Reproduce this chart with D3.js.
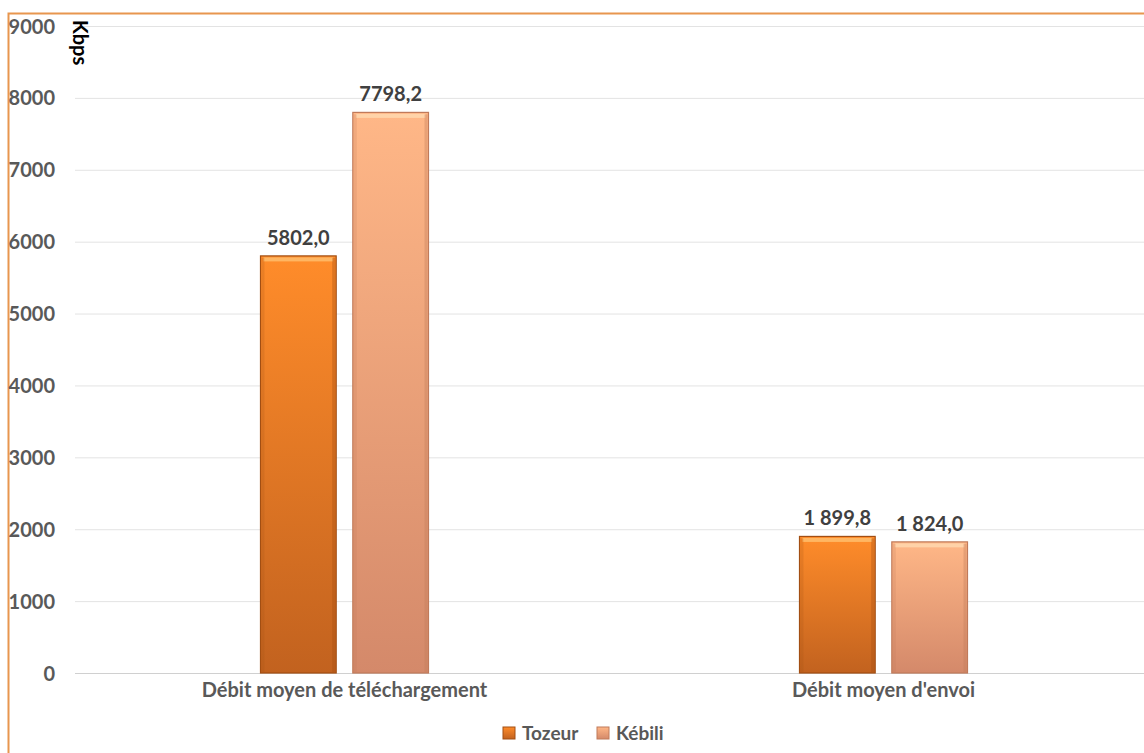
<!DOCTYPE html>
<html><head><meta charset="utf-8">
<script src="https://cdn.jsdelivr.net/npm/d3@7"></script>
<style>
html,body{margin:0;padding:0;background:#fff;}
svg{display:block;font-family:Lato,"Open Sans",sans-serif;}
</style></head>
<body>
<svg id="chart" width="1144" height="753"></svg>
<script>
const categories = ["Débit moyen de téléchargement", "Débit moyen d'envoi"];
const seriesNames = ["Tozeur", "Kébili"];
const tozeurValues = [5802.0, 1899.8];
const kebiliValues = [7798.2, 1824.0];
const tozeurLabels = ["5802,0", "1 899,8"];
const kebiliLabels = ["7798,2", "1 824,0"];
const yTicks = [0,1000,2000,3000,4000,5000,6000,7000,8000,9000];
const unitLabel = "Kbps";

const svg = d3.select("#chart");
const W = 1144, H = 753;
const plotLeft = 75, plotRight = 1153, yTop = 26, yBottom = 673;

// border
svg.append("path").attr("d", `M8.5,${H+5} L8.5,13.5 L${W+5},13.5`)
  .attr("fill","none").attr("stroke","#E8964E").attr("stroke-width",2);

const y = d3.scaleLinear().domain([0,9000]).range([yBottom,yTop]);
const x0 = d3.scaleBand().domain(categories).range([plotLeft,plotRight]).paddingInner(0).paddingOuter(0);
const x1 = d3.scaleBand().domain(seriesNames).range([x0.bandwidth()/2-84, x0.bandwidth()/2+84]).paddingInner(0.18).paddingOuter(0);

// gradients
const defs = svg.append("defs");
const gradSpecs = [
  {id:"gT", top:"#FF8C2A", bot:"#C2621F"},
  {id:"gK", top:"#FFB787", bot:"#D4896A"}
];
gradSpecs.forEach(g=>{
  const lg = defs.append("linearGradient").attr("id",g.id).attr("x1",0).attr("y1",0).attr("x2",0).attr("y2",1);
  lg.append("stop").attr("offset","0%").attr("stop-color",g.top);
  lg.append("stop").attr("offset","100%").attr("stop-color",g.bot);
});
const edgeColors = {Tozeur:"#A24E12", "Kébili":"#C07A5A"};
const hiColors = {Tozeur:"#FFC070", "Kébili":"#FFD9B0"};

// gridlines
const yAxis = d3.axisLeft(y).tickValues(yTicks).tickSize(0).tickPadding(0).tickFormat(d3.format("d"));
svg.append("g").selectAll("line").data(yTicks).join("line")
  .attr("x1",plotLeft).attr("x2",W).attr("y1",d=>y(d)+0.5).attr("y2",d=>y(d)+0.5)
  .attr("stroke",d=>d===0?"#d0d0d0":"#e3e3e3").attr("stroke-width",1);

const ga = svg.append("g").attr("transform","translate(55,0)").call(yAxis);
ga.select(".domain").remove();
ga.selectAll("text").attr("font-size",20).attr("font-weight","bold").attr("fill","#595959")
  .attr("font-family","Lato,sans-serif").attr("dy","0.35em");

// unit label
svg.append("text").attr("transform","translate(73,20) rotate(90)")
  .attr("font-size",20).attr("font-weight","bold").attr("fill","#000").attr("text-anchor","start")
  .text(unitLabel);

// bars
const data = categories.map((c,i)=>({cat:c, vals:[
  {s:"Tozeur", v:tozeurValues[i], lbl:tozeurLabels[i], g:"gT"},
  {s:"Kébili", v:kebiliValues[i], lbl:kebiliLabels[i], g:"gK"}]}));

const groups = svg.append("g").selectAll("g").data(data).join("g")
  .attr("transform",d=>`translate(${x0(d.cat)},0)`);

const bars = groups.selectAll("g.bar").data(d=>d.vals).join("g").attr("class","bar");
bars.append("rect")
  .attr("x",d=>x1(d.s)).attr("width",x1.bandwidth())
  .attr("y",d=>y(d.v)).attr("height",d=>y(0)-y(d.v))
  .attr("fill",d=>`url(#${d.g})`).attr("stroke",d=>edgeColors[d.s]).attr("stroke-width",1.2);
// bevel highlight at top
bars.append("rect")
  .attr("x",d=>x1(d.s)+3).attr("width",x1.bandwidth()-6)
  .attr("y",d=>y(d.v)+1.5).attr("height",4)
  .attr("fill",d=>hiColors[d.s]).attr("opacity",0.8);
// side shading
bars.append("rect")
  .attr("x",d=>x1(d.s)+x1.bandwidth()-4).attr("width",3)
  .attr("y",d=>y(d.v)+2).attr("height",d=>Math.max(0,y(0)-y(d.v)-3))
  .attr("fill",d=>edgeColors[d.s]).attr("opacity",0.35);
bars.append("rect")
  .attr("x",d=>x1(d.s)+1).attr("width",3)
  .attr("y",d=>y(d.v)+2).attr("height",d=>Math.max(0,y(0)-y(d.v)-3))
  .attr("fill",d=>edgeColors[d.s]).attr("opacity",0.2);

// value labels
bars.append("text")
  .attr("x",d=>x1(d.s)+x1.bandwidth()/2).attr("y",d=>y(d.v)-11)
  .attr("text-anchor","middle").attr("font-size",20).attr("font-weight","bold").attr("fill","#404040")
  .text(d=>d.lbl);

// category labels
svg.append("g").selectAll("text").data(categories).join("text")
  .attr("x",d=>x0(d)+x0.bandwidth()/2).attr("y",697)
  .attr("text-anchor","middle").attr("font-size",20).attr("font-weight","bold").attr("fill","#595959")
  .text(d=>d);

// legend
const legend = svg.append("g");
const legendItems = [
  {name:seriesNames[0], g:"gT", e:edgeColors.Tozeur},
  {name:seriesNames[1], g:"gK", e:edgeColors["Kébili"]}
];
const lx = [503, 597];
legendItems.forEach((it,i)=>{
  const gg = legend.append("g").attr("transform",`translate(${lx[i]},727)`);
  gg.append("rect").attr("width",12).attr("height",12).attr("fill",`url(#${it.g})`).attr("stroke",it.e).attr("stroke-width",1);
  gg.append("text").attr("x",19).attr("y",12.5).attr("font-size",19).attr("font-weight","bold").attr("fill","#595959").text(it.name);
});
</script>
</body></html>
